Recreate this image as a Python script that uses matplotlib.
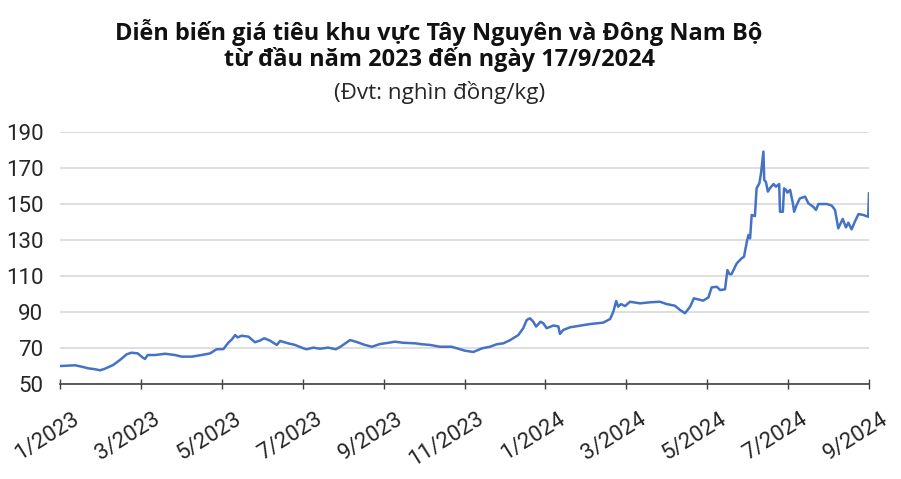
import matplotlib
matplotlib.use("Agg")
import matplotlib.pyplot as plt
import matplotlib.transforms as mtransforms

# Time position in months since 1/2023 (category axis, 9/2024 tick at the last point)
month_pos = [0.02, 0.37, 0.54, 0.70, 0.87, 0.99, 1.11, 1.31, 1.48, 1.65, 1.77, 1.92,
             2.04, 2.10, 2.17, 2.35, 2.60, 2.84, 3.01, 3.26, 3.50, 3.71, 3.87, 4.04,
             4.16, 4.25, 4.33, 4.39, 4.49, 4.66, 4.82, 4.94, 5.05, 5.19, 5.36, 5.44,
             5.64, 5.81, 6.02, 6.10, 6.26, 6.43, 6.63, 6.82, 6.96, 7.17, 7.34, 7.54,
             7.71, 7.91, 8.12, 8.28, 8.49, 8.78, 8.94, 9.15, 9.39, 9.68, 9.85, 10.01,
             10.22, 10.43, 10.63, 10.80, 10.96, 11.13, 11.33, 11.45, 11.54, 11.62, 11.70,
             11.77, 11.88, 11.95, 12.03, 12.20, 12.32, 12.36, 12.44, 12.61, 12.86, 13.10,
             13.43, 13.60, 13.68, 13.75, 13.80, 13.87, 13.97, 14.09, 14.34, 14.59, 14.83,
             15.00, 15.20, 15.33, 15.45, 15.58, 15.67, 15.78, 15.90, 16.03, 16.11, 16.24,
             16.32, 16.44, 16.50, 16.55, 16.60, 16.73, 16.85, 16.91, 16.98, 17.02, 17.06,
             17.10, 17.18, 17.22, 17.29, 17.33, 17.39, 17.41, 17.45, 17.50, 17.55, 17.64,
             17.70, 17.78, 17.80, 17.87, 17.90, 17.95, 17.98, 18.05, 18.11, 18.15, 18.21,
             18.29, 18.42, 18.50, 18.62, 18.69, 18.75, 18.96, 19.08, 19.16, 19.24, 19.35,
             19.43, 19.49, 19.57, 19.65, 19.74, 19.86, 19.98, 20.00]

price = [60.0, 60.4, 59.6, 58.7, 58.2, 57.6, 58.5, 60.5, 63.3, 66.5, 67.4, 67.0,
         64.8, 63.9, 66.1, 66.1, 66.8, 66.1, 65.2, 65.2, 66.1, 67.0, 69.3, 69.4,
         72.9, 74.8, 77.2, 75.9, 76.8, 76.3, 73.2, 74.1, 75.4, 74.1, 71.7, 73.9,
         72.6, 71.7, 69.8, 69.3, 70.2, 69.6, 70.2, 69.3, 71.1, 74.4, 73.3, 71.7,
         70.7, 72.2, 72.9, 73.5, 72.9, 72.6, 72.1, 71.7, 70.7, 70.7, 69.6, 68.5,
         67.8, 69.8, 70.7, 72.1, 72.6, 74.4, 77.2, 80.9, 85.6, 86.5, 84.6,
         81.9, 84.6, 83.7, 81.0, 82.5, 82.0, 77.8, 80.0, 81.5, 82.4, 83.3,
         84.1, 86.1, 90.2, 96.1, 93.0, 94.4, 93.3, 95.7, 94.8, 95.4, 95.7,
         94.4, 93.5, 91.1, 89.3, 93.0, 97.6, 97.0, 96.3, 98.1, 103.7, 104.0,
         102.2, 102.6, 113.3, 111.1, 111.0, 117.0, 119.8, 120.7, 129.1, 132.8, 130.9,
         143.9, 143.3, 158.7, 161.5, 167.0, 179.1, 163.3, 162.4, 156.9, 158.7, 161.1,
         159.6, 161.1, 145.7, 145.7, 158.7, 157.8, 156.3, 157.8, 151.3, 145.7, 149.4,
         153.1, 154.1, 150.4, 148.5, 146.7, 150.0, 150.0, 149.1, 146.7, 136.5, 141.7,
         137.0, 139.6, 135.9, 140.2, 144.4, 143.9, 142.9, 155.9]

tick_pos = [0, 2, 4, 6, 8, 10, 12, 14, 16, 18, 20]
tick_labels = ["1/2023", "3/2023", "5/2023", "7/2023", "9/2023", "11/2023",
               "1/2024", "3/2024", "5/2024", "7/2024", "9/2024"]
y_ticks = [50, 70, 90, 110, 130, 150, 170, 190]

title_line1 = "Diễn biến giá tiêu khu vực Tây Nguyên và Đông Nam Bộ"
title_line2 = "từ đầu năm 2023 đến ngày 17/9/2024"
subtitle = "(Đvt: nghìn đồng/kg)"

plt.rcParams['font.family'] = ['Roboto', 'DejaVu Sans']

fig = plt.figure(figsize=(9.01, 4.79), dpi=100)
ax = fig.add_axes([60 / 901, 1 - 384 / 479, (869 - 60) / 901, (384 - 132) / 479])

ax.plot(month_pos, price, color="#4472C4", linewidth=1.8, solid_joinstyle="round")

ax.set_xlim(0, 20)
ax.set_ylim(50, 190)
ax.set_yticks(y_ticks)
ax.set_yticklabels([str(v) for v in y_ticks], fontsize=16, color="#262626")
ax.yaxis.grid(True, color="#d9d9d9", linewidth=1.2)
ax.set_axisbelow(True)
ax.tick_params(axis='y', length=0, pad=12)

ax.set_xticks(tick_pos)
ax.set_xticklabels(tick_labels, fontsize=16, color="#262626", rotation=32,
                   ha='right', va='top', rotation_mode='anchor')
ax.tick_params(axis='x', direction='inout', length=7, width=1, color="#404040", pad=14)
offset = mtransforms.ScaledTranslation(12 / 100, 0, fig.dpi_scale_trans)
for lbl in ax.get_xticklabels():
    lbl.set_transform(lbl.get_transform() + offset)

for s in ['top', 'right', 'left']:
    ax.spines[s].set_visible(False)
ax.spines['bottom'].set_color("#404040")
ax.spines['bottom'].set_linewidth(1.2)

title_font = ['Open Sans', 'DejaVu Sans']
fig.text(439 / 901, 1 - 40 / 479, title_line1, ha='center', va='baseline',
         fontsize=16.9, fontweight='bold', color="#111111", family=title_font)
fig.text(439 / 901, 1 - 66 / 479, title_line2, ha='center', va='baseline',
         fontsize=16.9, fontweight='bold', color="#111111", family=title_font)
fig.text(440 / 901, 1 - 99 / 479, subtitle, ha='center', va='baseline',
         fontsize=16.2, color="#262626", family=title_font)

fig.savefig("out.png", dpi=100)
